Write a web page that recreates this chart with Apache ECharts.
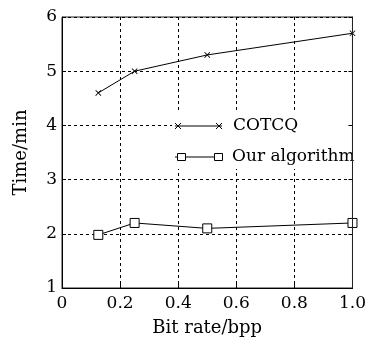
<!DOCTYPE html>
<html><head><meta charset="utf-8">
<script src="https://cdn.jsdelivr.net/npm/echarts@6/dist/echarts.min.js"></script>
<style>html,body{margin:0;padding:0;background:#fff}#c{width:369px;height:342px}</style>
</head><body><div id="c"></div>
<script>
var bitRates = [0.125, 0.25, 0.5, 1.0];
var cotcq = [4.6, 5.0, 5.3, 5.7];
var ours = [1.98, 2.2, 2.1, 2.2];
var seriesNames = ['COTCQ', 'Our algorithm'];
var xTicks = ['0', '0.2', '0.4', '0.6', '0.8', '1.0'];

var FONT = 'DejaVu Serif';
var crossPath = 'path://M0,1 L1,0 L5,4 L9,0 L10,1 L6,5 L10,9 L9,10 L5,6 L1,10 L0,9 L4,5 Z';

function pairs(xs, ys) { return xs.map(function (x, i) { return [x, ys[i]]; }); }

var chart = echarts.init(document.getElementById('c'), null, {renderer: 'canvas'});
var tickStyle = {color: '#000', fontFamily: FONT, fontSize: 17};
var nameStyle = {color: '#000', fontFamily: FONT, fontSize: 18};
var split = {show: true, lineStyle: {color: '#000', type: [3, 3], width: 1}};

function seg(x1, y1, x2, y2) {
  return {type: 'line', z: 100, shape: {x1: x1, y1: y1, x2: x2, y2: y2}, style: {stroke: '#000', lineWidth: 1}};
}

chart.setOption({
  animation: false,
  backgroundColor: '#fff',
  grid: {left: 62, right: 12, top: 17, bottom: 43, show: true, borderColor: '#222', borderWidth: 1},
  xAxis: [{
    type: 'value', min: 0, max: 1, interval: 0.2,
    name: 'Bit rate/bpp', nameLocation: 'middle', nameGap: 31,
    nameTextStyle: nameStyle,
    axisLine: {show: true, lineStyle: {color: '#000'}},
    axisTick: {show: true, inside: true, length: 4, lineStyle: {color: '#000'}},
    axisLabel: Object.assign({margin: 7, formatter: function (v) { return xTicks[Math.round(v / 0.2)]; }}, tickStyle),
    splitLine: split
  }],
  yAxis: [{
    type: 'value', min: 1, max: 6, interval: 1,
    name: 'Time/min', nameLocation: 'middle', nameGap: 32,
    nameTextStyle: nameStyle,
    axisLine: {show: true, lineStyle: {color: '#000'}},
    axisTick: {show: true, inside: true, length: 4, lineStyle: {color: '#000'}},
    axisLabel: Object.assign({margin: 5}, tickStyle),
    splitLine: split
  }, {
    type: 'value', min: 1, max: 6, interval: 1, position: 'right', z: 120,
    axisLine: {show: true, lineStyle: {color: '#222'}},
    axisTick: {show: true, inside: true, length: 4, lineStyle: {color: '#000'}},
    axisLabel: {show: false}, splitLine: {show: false}
  }],
  series: [{
    name: seriesNames[0], type: 'line', data: pairs(bitRates, cotcq),
    symbol: crossPath, symbolSize: 6, showAllSymbol: true,
    lineStyle: {color: '#000', width: 1}, itemStyle: {color: '#000'}, z: 3
  }, {
    name: seriesNames[1], type: 'line', data: pairs(bitRates, ours),
    symbol: 'rect', symbolSize: 9, showAllSymbol: true,
    lineStyle: {color: '#000', width: 1},
    itemStyle: {color: '#fff', borderColor: '#000', borderWidth: 1}, z: 3
  }],
  graphic: [{
    type: 'group', left: 172, top: 113, z: 100,
    children: [
      {type: 'rect', z: 99, shape: {x: 0, y: 0, width: 178, height: 56}, style: {fill: '#fff'}},
      seg(3, 13, 50, 13),
      seg(3, 10, 9, 16), seg(9, 10, 3, 16),
      seg(44, 10, 50, 16), seg(50, 10, 44, 16),
      {type: 'text', z: 100, x: 61, y: 13, style: {text: seriesNames[0], fill: '#000', font: '17px "' + FONT + '"', verticalAlign: 'middle'}},
      seg(3, 44, 50, 44),
      {type: 'rect', z: 101, shape: {x: 5.5, y: 40.5, width: 8, height: 7}, style: {fill: '#fff', stroke: '#000', lineWidth: 1}},
      {type: 'rect', z: 101, shape: {x: 42.5, y: 40.5, width: 8, height: 7}, style: {fill: '#fff', stroke: '#000', lineWidth: 1}},
      {type: 'text', z: 100, x: 60, y: 44, style: {text: seriesNames[1], fill: '#000', font: '17px "' + FONT + '"', verticalAlign: 'middle'}}
    ]
  }]
});
</script></body></html>
